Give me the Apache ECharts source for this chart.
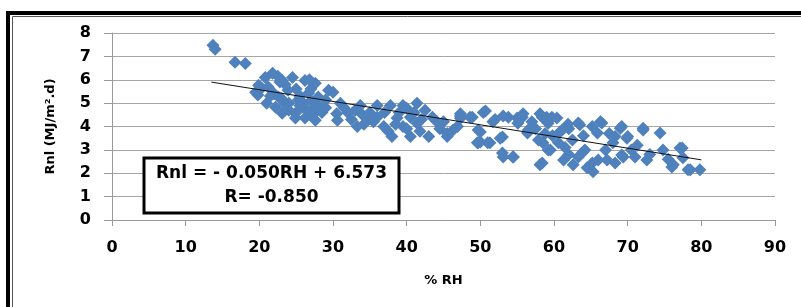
<!DOCTYPE html>
<html>
<head>
<meta charset="utf-8">
<script src="https://cdn.jsdelivr.net/npm/echarts@6/dist/echarts.min.js"></script>
<style>
html,body{margin:0;padding:0;background:#fff;}
#c{width:801px;height:307px;}
</style>
</head>
<body>
<div id="c"></div>
<script>
// % RH values
var rhValues = [
13.7,14.0,16.7,18.1,
19.5,19.9,19.8,20.3,20.8,21.2,21.8,22.5,23.1,22.2,23.1,22.6,24.5,23.9,25.3,24.9,26.2,27.6,26.7,28.0,25.8,27.6,24.9,26.2,27.6,29.0,29.4,23.5,21.0,22.0,23.0,24.0,24.0,25.0,25.5,26.0,26.5,27.0,27.0,28.0,28.5,29.0,27.3,25.5,23.5,22.8,26.8,21.5,
30.0,30.5,30.6,32.0,33.7,34.2,33.3,31.0,31.5,32.5,33.0,34.0,34.7,35.0,36.0,37.8,40.0,41.4,38.7,36.9,38.0,40.5,41.4,43.0,44.1,45.5,47.3,46.3,39.0,39.5,40.5,41.0,42.0,42.5,43.5,39.5,37.0,38.5,40.0,41.8,36.0,35.5,37.5,44.5,45.0,47.3,45.5,46.9,49.6,
47.3,48.6,48.9,50.4,50.7,51.7,50.0,49.7,50.0,49.7,51.0,51.3,52.7,53.0,53.1,53.0,54.5,54.4,53.1,53.8,55.8,55.7,55.0,55.1,56.4,56.5,58.1,59.0,58.4,59.7,59.2,57.9,58.5,58.1,58.4,59.5,59.2,52.0,57.0,57.5,58.8,59.8,60.4,60.8,61.1,60.6,
61.3,62.6,62.5,63.5,63.3,63.9,63.3,64.2,64.5,65.3,65.2,65.2,66.3,66.5,65.9,66.0,67.2,68.0,68.3,68.3,69.0,69.2,69.9,70.0,69.4,69.2,71.3,71.0,72.1,72.1,72.6,73.0,74.4,74.8,76.0,76.2,77.1,77.4,77.5,78.2,78.5,79.8,61.5,62.0,64.0,67.0,67.5,70.5,75.5,62.0,61.9
];
// Rnl values (MJ/m².d)
var rnlValues = [
7.48,7.3,6.75,6.7,
5.46,5.76,5.35,5.65,6.1,5.69,6.28,6.15,5.97,4.82,4.57,5.26,6.1,5.55,5.13,4.57,5.97,5.85,5.43,5.26,4.82,4.82,4.36,4.36,4.27,5.13,5.55,4.96,5.0,5.4,5.2,5.0,4.7,5.6,5.3,5.0,4.7,5.1,5.6,4.9,4.6,4.8,4.5,4.9,5.8,5.9,6.0,5.3,
5.47,4.55,4.27,4.6,4.9,4.1,4.0,5.0,4.8,4.3,4.7,4.5,4.3,4.6,4.4,4.9,4.78,5.0,4.36,4.0,3.57,3.57,4.14,3.57,4.2,3.57,4.45,3.85,4.6,4.9,4.4,4.6,4.3,4.7,4.4,4.0,4.6,4.1,3.9,3.8,4.9,4.2,3.8,3.9,4.2,4.35,3.7,4.0,3.3,
4.55,4.4,4.4,4.6,4.66,4.2,3.76,3.85,3.34,3.3,3.3,3.3,3.5,3.55,2.7,2.87,2.7,2.7,4.45,4.4,4.55,4.4,4.36,4.14,3.72,3.85,4.55,4.4,4.4,4.4,4.14,3.42,3.3,2.36,2.44,3.0,3.0,4.3,4.2,3.9,3.7,3.6,4.36,3.76,3.85,3.3,
2.57,2.36,3.42,4.07,4.15,2.9,2.7,3.0,2.23,2.06,2.44,4.0,4.2,4.15,3.72,2.57,2.57,3.3,3.57,2.44,3.93,4.0,3.5,3.57,2.7,2.78,3.2,2.7,3.85,3.93,2.57,2.8,3.72,3.0,2.27,2.36,3.08,3.08,2.66,2.15,2.15,2.15,3.1,2.8,3.6,3.0,3.7,3.0,2.6,3.9,4.1
];
// Linear trend line endpoints
var trendX = [13.5, 80];
var trendY = [5.898, 2.573];
var xTicks = [0,10,20,30,40,50,60,70,80,90];
var yTicks = [0,1,2,3,4,5,6,7,8];
var eqLine1 = 'Rnl = - 0.050RH + 6.573';
var eqLine2 = 'R= -0.850';

var pts = rhValues.map(function(x,i){return [x, rnlValues[i]];});
var trend = trendX.map(function(x,i){return [x, trendY[i]];});

var FF = '"DejaVu Sans", Verdana, sans-serif';
var chart = echarts.init(document.getElementById('c'), null, {renderer:'canvas'});
var lblFont = {color:'#000', fontFamily:FF, fontWeight:'bold', fontSize:16};
chart.setOption({
  animation:false,
  backgroundColor:'#fff',
  grid:{left:112, right:26, top:33, bottom:87, containLabel:false},
  xAxis:{
    type:'value', min:0, max:90, interval:10,
    name:'% RH', nameLocation:'middle', nameGap:54,
    nameTextStyle:{color:'#000', fontFamily:FF, fontWeight:'bold', fontSize:13},
    axisLine:{show:true, onZero:false, lineStyle:{color:'#999', width:1}},
    axisTick:{show:true, inside:false, length:6, lineStyle:{color:'#999'}},
    axisLabel:Object.assign({margin:20, formatter:function(v){return xTicks.indexOf(v)>=0?String(v):'';}}, lblFont),
    splitLine:{show:false}
  },
  yAxis:{
    type:'value', min:0, max:8, interval:1,
    name:'Rnl (MJ/m\u00b2.d)', nameLocation:'middle', nameGap:55, nameRotate:90,
    nameTextStyle:{color:'#000', fontFamily:FF, fontWeight:'bold', fontSize:13},
    axisLine:{show:true, onZero:false, lineStyle:{color:'#999', width:1}},
    axisTick:{show:true, inside:false, length:8, lineStyle:{color:'#999'}},
    axisLabel:Object.assign({margin:21, formatter:function(v){return yTicks.indexOf(v)>=0?String(v):'';}}, lblFont),
    splitLine:{show:true, lineStyle:{color:'#a6a6a6', width:1}}
  },
  series:[
    {type:'scatter', data:pts, symbol:'diamond', symbolSize:13,
     itemStyle:{color:'#4F81BD', opacity:1}, z:2},
    {type:'line', data:trend, symbol:'none', lineStyle:{color:'#111', width:1}, z:3}
  ],
  graphic:[
    {type:'rect', shape:{x:8, y:13, width:900, height:400}, style:{fill:'none', stroke:'#000', lineWidth:4}, z:10},
    {type:'rect', shape:{x:12.5, y:16.5, width:900, height:400}, style:{fill:'none', stroke:'#555', lineWidth:1}, z:10},
    {type:'rect', shape:{x:144, y:158, width:255, height:55}, style:{fill:'#fff', stroke:'#000', lineWidth:3}, z:10},
    {type:'text', x:271.5, y:174, style:{text:eqLine1, fill:'#000', font:'bold 17px "DejaVu Sans", Verdana, sans-serif', textAlign:'center', textVerticalAlign:'middle'}, z:11},
    {type:'text', x:271.5, y:198, style:{text:eqLine2, fill:'#000', font:'bold 17px "DejaVu Sans", Verdana, sans-serif', textAlign:'center', textVerticalAlign:'middle'}, z:11}
  ]
});
</script>
</body>
</html>
